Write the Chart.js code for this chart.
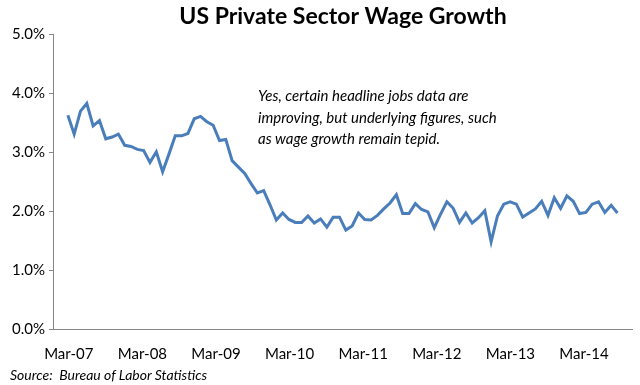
<!DOCTYPE html>
<html>
<head>
<meta charset="utf-8">
<script src="https://cdn.jsdelivr.net/npm/chart.js@4/dist/chart.umd.min.js"></script>
<style>
  html, body { margin: 0; padding: 0; background: #fff; }
  #wrap { position: relative; width: 640px; height: 385px; }
  .note {
    position: absolute;
    font-family: Lato, 'Open Sans', sans-serif;
    font-style: italic;
    color: #000;
  }
  #comment { left: 258px; top: 85px; font-size: 15px; line-height: 21.5px; }
  #source { left: 10px; top: 366px; font-size: 14px; }
</style>
</head>
<body>
<div id="wrap">
  <canvas id="wageChart" width="640" height="385"></canvas>
  <div id="comment" class="note">Yes, certain headline jobs data are<br>improving, but underlying figures, such<br>as wage growth remain tepid.</div>
  <div id="source" class="note">Source:&nbsp; Bureau of Labor Statistics</div>
</div>
<script>
// year-over-year growth of average hourly earnings, monthly from Mar-07 to Jun-14
const wageGrowth = [
    3.63, 3.31, 3.70, 3.83, 3.45, 3.54, 3.23, 3.26, 3.31, 3.12, 3.10, 3.05,
    3.03, 2.83, 3.01, 2.67, 2.97, 3.28, 3.28, 3.32, 3.57, 3.61, 3.52, 3.46,
    3.20, 3.22, 2.86, 2.75, 2.64, 2.47, 2.31, 2.35, 2.11, 1.85, 1.97, 1.86,
    1.81, 1.81, 1.92, 1.80, 1.87, 1.73, 1.90, 1.90, 1.68, 1.75, 1.97, 1.86,
    1.85, 1.93, 2.04, 2.14, 2.28, 1.96, 1.96, 2.13, 2.03, 1.99, 1.72, 1.95,
    2.16, 2.05, 1.81, 1.97, 1.80, 1.89, 2.01, 1.48, 1.92, 2.12, 2.16, 2.12,
    1.90, 1.97, 2.04, 2.17, 1.93, 2.23, 2.05, 2.26, 2.17, 1.96, 1.98, 2.12,
    2.16, 1.98, 2.10, 1.97
];
const xTickLabels = ['Mar-07', 'Mar-08', 'Mar-09', 'Mar-10', 'Mar-11', 'Mar-12', 'Mar-13', 'Mar-14'];
const yTicks = [0, 1, 2, 3, 4, 5];

const font = 'Lato, "Open Sans", sans-serif';
// the source chart spaces its year labels a bit tighter than 12 months
const labelStep = 11.65;

document.addEventListener('DOMContentLoaded', () => {
    new Chart(document.getElementById('wageChart'), {
        type: 'line',
        data: {
            datasets: [{
                data: wageGrowth.map((v, i) => ({ x: i, y: v })),
                borderColor: '#4a7ebb',
                borderWidth: 3,
                pointRadius: 0,
                tension: 0,
                fill: false
            }]
        },
        options: {
            responsive: false,
            animation: false,
            layout: { padding: { left: 8, right: 8, top: 0, bottom: 14 } },
            plugins: {
                legend: { display: false },
                tooltip: { enabled: false },
                title: {
                    display: true,
                    fullSize: false,
                    text: 'US Private Sector Wage Growth',
                    color: '#000',
                    font: { family: font, size: 23, weight: 'bold' },
                    padding: { top: 3, bottom: 4 }
                }
            },
            scales: {
                x: {
                    type: 'linear',
                    min: -2.2,
                    max: 89.3,
                    afterBuildTicks: axis => {
                        axis.ticks = xTickLabels.map((_, k) => ({ value: 0.15 + k * labelStep }));
                    },
                    ticks: {
                        color: '#000',
                        font: { family: font, size: 15 },
                        padding: 8,
                        maxRotation: 0,
                        autoSkip: false,
                        callback: (v, idx) => xTickLabels[idx]
                    },
                    grid: { display: false },
                    border: { display: true, color: '#868686', width: 1 }
                },
                y: {
                    min: 0,
                    max: 5,
                    afterBuildTicks: axis => {
                        axis.ticks = yTicks.map(v => ({ value: v }));
                    },
                    ticks: {
                        color: '#000',
                        font: { family: font, size: 15 },
                        padding: 4,
                        callback: v => v.toFixed(1) + '%'
                    },
                    grid: {
                        display: true,
                        drawOnChartArea: false,
                        drawTicks: true,
                        tickLength: 5,
                        color: '#868686'
                    },
                    border: { display: true, color: '#868686', width: 1 }
                }
            }
        }
    });
});
</script>
</body>
</html>
